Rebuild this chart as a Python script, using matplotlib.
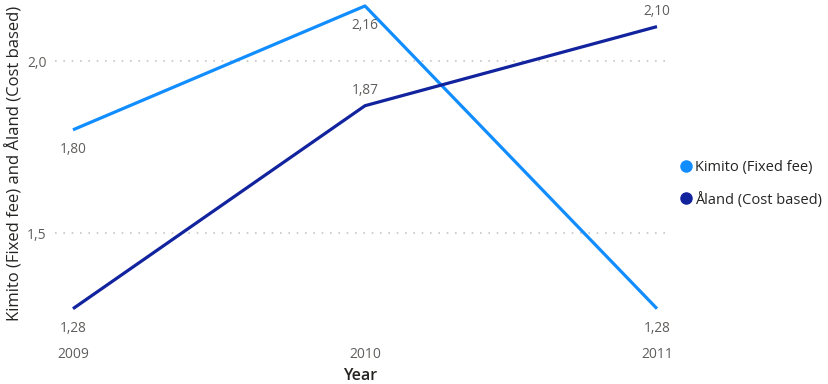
import matplotlib
matplotlib.use("Agg")
import matplotlib.pyplot as plt
from matplotlib.lines import Line2D

years = [2009, 2010, 2011]
kimito = [1.80, 2.16, 1.28]
aland = [1.28, 1.87, 2.10]
series_names = ["Kimito (Fixed fee)", "Åland (Cost based)"]
kimito_label_pos = ["below", "below", "below"]
aland_label_pos = ["below", "above", "above"]
yticks = [1.5, 2.0]
ytick_labels = ["1,5", "2,0"]

plt.rcParams['font.family'] = ['Open Sans', 'DejaVu Sans']
c_k = "#118DFF"
c_a = "#12239E"
W, H = 829, 384
fig = plt.figure(figsize=(W / 100, H / 100), dpi=100)
left, right, top, bottom = 55, 665, 0, 335
ax = fig.add_axes([left / W, 1 - bottom / H, (right - left) / W, (bottom - top) / H])

ax.plot(years, kimito, color=c_k, lw=2.3, solid_capstyle='butt')
ax.plot(years, aland, color=c_a, lw=2.3, solid_capstyle='butt')

ax.set_xlim(2009 - 18 / 292, 2011 + 8 / 292)
ax.set_ylim(2.0 - (335 - 61) / 344, 2.0 + 61 / 344)

def fmt(v):
    return f"{v:.2f}".replace(".", ",")

for vals, pos in [(kimito, kimito_label_pos), (aland, aland_label_pos)]:
    for x, v, p in zip(years, vals, pos):
        off = -14 if p == "below" else 11
        ax.annotate(fmt(v), (x, v), xytext=(0, off), textcoords="offset points",
                    ha="center", va="center", fontsize=9.8, color="#605E5C")

ax.set_yticks(yticks)
ax.set_yticklabels(ytick_labels)
ax.set_xticks(years)
ax.set_xticklabels([str(y) for y in years])
ax.tick_params(axis='both', length=0, labelsize=10, labelcolor="#605E5C")
ax.tick_params(axis='x', pad=9)
ax.tick_params(axis='y', pad=6)
ax.grid(axis='y', linestyle=(0, (1, 4)), color="#C8C6C4", lw=1.2)
for s in ax.spines.values():
    s.set_visible(False)

ax.set_xlabel("Year", fontsize=11.5, fontweight='semibold', color="#252423", labelpad=4)
ax.set_ylabel("Kimito (Fixed fee) and Åland (Cost based)", fontsize=12,
              color="#252423", labelpad=8)
ax.yaxis.set_label_coords(-(left - 24) / (right - left), (335 - 163) / 335)

handles = [Line2D([], [], marker='o', linestyle='none', color=c, markersize=8) for c in (c_k, c_a)]
fig.legend(handles, series_names, loc="center left", bbox_to_anchor=(664 / W, 1 - 184 / H),
           frameon=False, fontsize=10.5, handletextpad=0.0, labelspacing=1.1,
           labelcolor="#252423", handlelength=1.2)

fig.savefig("out.png", dpi=100)
